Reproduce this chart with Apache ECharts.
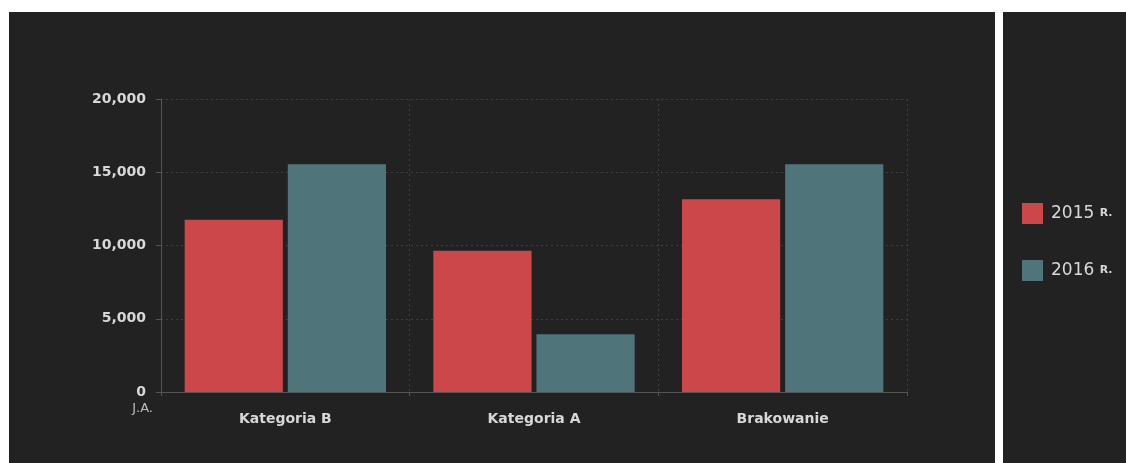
<!DOCTYPE html>
<html><head><meta charset="utf-8">
<script src="https://cdn.jsdelivr.net/npm/echarts@6/dist/echarts.min.js"></script>
<style>html,body{margin:0;padding:0;background:#fff}#c{width:1126px;height:463px}</style>
</head><body><div id="c"></div>
<script>
var categories = ['Kategoria B', 'Kategoria A', 'Brakowanie'];
var seriesNames = ['2015', '2016'];
var values2015 = [11750, 9650, 13150];
var values2016 = [15550, 3950, 15550];
var unitLabel = 'J.A.';

var chart = echarts.init(document.getElementById('c'));
var txt = '#d8d8d8';
chart.setOption({
  backgroundColor: '#ffffff',
  animation: false,
  textStyle: { fontFamily: 'DejaVu Sans' },
  graphic: [
    { type: 'rect', z: -10, shape: { x: 9, y: 12, width: 986, height: 460 }, style: { fill: '#222222' } },
    { type: 'rect', z: -10, shape: { x: 1003, y: 12, width: 130, height: 460 }, style: { fill: '#222222' } }
  ],
  grid: { left: 161, right: 219, top: 99, bottom: 71 },
  legend: {
    orient: 'vertical', left: 1017, top: 198,
    itemWidth: 21, itemHeight: 21, itemGap: 36,
    icon: 'rect',
    data: seriesNames,
    formatter: function (n) { return n + ' {s|R.}'; },
    textStyle: { color: txt, fontSize: 17, fontFamily: 'DejaVu Sans', padding: [0, 0, 0, 3],
      rich: { s: { fontSize: 11, color: txt, fontFamily: 'DejaVu Sans', fontWeight: 'bold' } } }
  },
  xAxis: {
    type: 'category', data: categories,
    axisLine: { lineStyle: { color: '#555', width: 1 } },
    axisTick: { show: true, length: 4, lineStyle: { color: '#555' } },
    axisLabel: { color: txt, fontSize: 14, fontWeight: 'bold', margin: 20 },
    splitLine: { show: true, lineStyle: { color: '#3e3e3e', type: [2, 3] } }
  },
  yAxis: {
    type: 'value', min: 0, max: 20000, interval: 5000,
    name: unitLabel, nameLocation: 'start', nameGap: 10,
    nameTextStyle: { color: '#bbb', fontSize: 13, align: 'right', padding: [0, 8, 0, 0] },
    axisLine: { show: true, lineStyle: { color: '#555' } },
    axisTick: { show: true, length: 5, lineStyle: { color: '#555' } },
    axisLabel: { color: txt, fontSize: 14, margin: 15, fontWeight: 'bold',
      formatter: function (v) { return v.toLocaleString('en-US'); } },
    splitLine: { show: true, lineStyle: { color: '#3e3e3e', type: [2, 3] } }
  },
  series: [
    { name: seriesNames[0], type: 'bar', data: values2015, barWidth: '39.5%', barGap: '5%',
      itemStyle: { color: '#cc4749' } },
    { name: seriesNames[1], type: 'bar', data: values2016, barWidth: '39.5%', barGap: '5%',
      itemStyle: { color: '#4f747a' } }
  ]
});
</script></body></html>
